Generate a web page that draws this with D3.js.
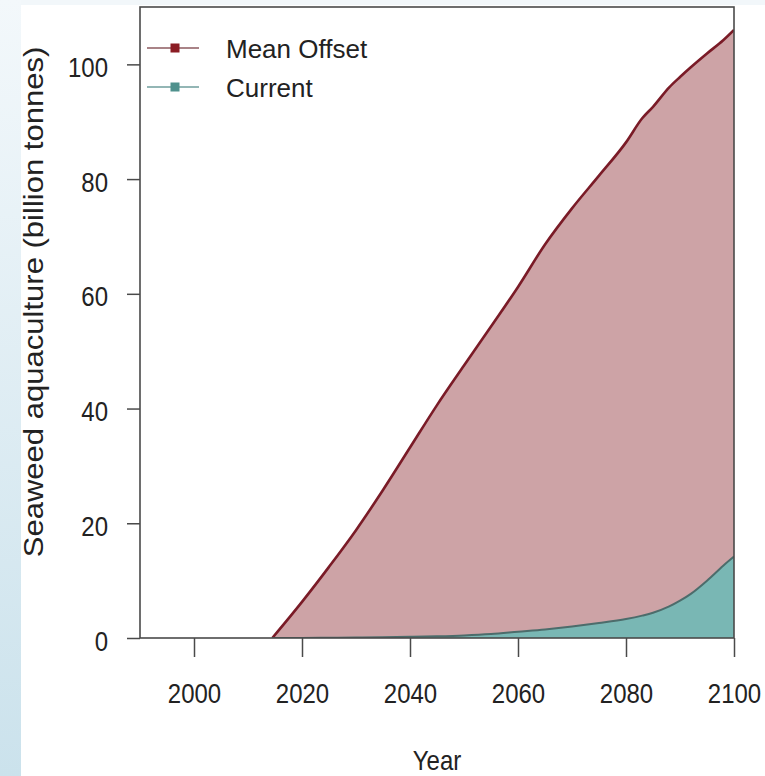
<!DOCTYPE html>
<html>
<head>
<meta charset="utf-8">
<script src="https://cdn.jsdelivr.net/npm/d3@7"></script>
<style>
  html, body { margin: 0; padding: 0; background: #ffffff; }
  svg { display: block; font-family: "Liberation Sans", Arial, sans-serif; }
</style>
</head>
<body>
<svg id="chart" width="765" height="776"></svg>
<script>
// Seaweed aquaculture needed per scenario (billion tonnes)
const years        = [2014.5, 2020, 2025, 2030, 2035, 2040, 2045, 2050, 2055, 2060, 2065, 2070, 2075, 2080, 2083, 2085, 2088, 2090, 2092, 2095, 2098, 2100];
const meanOffset   = [0, 6.3, 12.4, 18.8, 25.8, 33.2, 40.6, 47.5, 54.3, 61.2, 68.6, 74.9, 80.6, 86.4, 90.6, 92.6, 96.0, 97.8, 99.5, 101.9, 104.2, 106.0];
const currentTrend = [0, 0.02, 0.05, 0.08, 0.12, 0.2, 0.3, 0.45, 0.7, 1.1, 1.5, 2.0, 2.6, 3.3, 3.9, 4.4, 5.5, 6.5, 7.7, 10.0, 12.6, 14.2];

const seriesNames = ["Mean Offset", "Current"];
const xTicks = [2000, 2020, 2040, 2060, 2080, 2100];
const yTicks = [0, 20, 40, 60, 80, 100];

const svg = d3.select("#chart");
const L = 140, R = 734, T = 7, B = 638;
const textStretch = 1.15;

// soft page backdrop on the left / top edge
const defs = svg.append("defs");
const grad = defs.append("linearGradient").attr("id", "edge").attr("x1", 0).attr("y1", 0).attr("x2", 0).attr("y2", 1);
grad.append("stop").attr("offset", "0%").attr("stop-color", "#f3f8fb");
grad.append("stop").attr("offset", "100%").attr("stop-color", "#cbe2ec");
svg.append("rect").attr("x", 0).attr("y", 0).attr("width", 21).attr("height", 776).attr("fill", "url(#edge)");
svg.append("rect").attr("x", 21).attr("y", 0).attr("width", 744).attr("height", 5).attr("fill", "#f2f7fa");

defs.append("clipPath").attr("id", "plotClip")
  .append("rect").attr("x", L).attr("y", T).attr("width", R - L).attr("height", B - T);

const x = d3.scaleLinear().domain([1990, 2100]).range([L, R]);
const y = d3.scaleLinear().domain([0, 110]).range([B, T]);

const rowsOffset = years.map((yr, i) => ({ yr, v: meanOffset[i] }));
const rowsCurrent = years.map((yr, i) => ({ yr, v: currentTrend[i] }));

const area = d3.area().x(d => x(d.yr)).y0(y(0)).y1(d => y(d.v)).curve(d3.curveMonotoneX);
const line = d3.line().x(d => x(d.yr)).y(d => y(d.v)).curve(d3.curveMonotoneX);

const plot = svg.append("g").attr("clip-path", "url(#plotClip)");
plot.append("path").datum(rowsOffset).attr("d", area).attr("fill", "#cda3a6");
plot.append("path").datum(rowsOffset).attr("d", line).attr("fill", "none")
  .attr("stroke", "#7a1b27").attr("stroke-width", 2.6);
plot.append("path").datum(rowsCurrent).attr("d", area).attr("fill", "#79b7b4");
plot.append("path").datum(rowsCurrent).attr("d", line).attr("fill", "none")
  .attr("stroke", "#4c6c6b").attr("stroke-width", 2);

// axes
const axisColor = "#4a4a4a";
const gy = svg.append("g").attr("transform", `translate(${L},0)`)
  .call(d3.axisLeft(y).tickValues(yTicks).tickSize(13).tickFormat(d3.format("d")));
gy.select(".domain").remove();
gy.selectAll(".tick line").attr("stroke", axisColor).attr("stroke-width", 1.5);
gy.selectAll(".tick text")
  .attr("font-size", 24).attr("fill", "#222").attr("font-family", "Liberation Sans, Arial, sans-serif")
  .attr("text-anchor", "end").attr("x", -32).attr("dy", 0).attr("y", 12 / textStretch)
  .attr("transform", `scale(1,${textStretch})`);

const gx = svg.append("g").attr("transform", `translate(0,${B})`)
  .call(d3.axisBottom(x).tickValues(xTicks).tickSize(19).tickFormat(d3.format("d")));
gx.select(".domain").remove();
gx.selectAll(".tick line").attr("stroke", axisColor).attr("stroke-width", 1.5);
gx.selectAll(".tick text")
  .attr("font-size", 24).attr("fill", "#222").attr("font-family", "Liberation Sans, Arial, sans-serif")
  .attr("dy", 0).attr("y", 65 / textStretch)
  .attr("transform", `scale(1,${textStretch})`);

// plot frame
svg.append("rect").attr("x", L).attr("y", T).attr("width", R - L).attr("height", B - T)
  .attr("fill", "none").attr("stroke", axisColor).attr("stroke-width", 1.6);

// axis titles
svg.append("text")
  .attr("transform", `translate(437,770) scale(1,${textStretch})`)
  .attr("text-anchor", "middle").attr("font-size", 24).attr("fill", "#222")
  .text("Year");
svg.append("text")
  .attr("transform", `translate(43,302) rotate(-90) scale(${textStretch},1)`)
  .attr("text-anchor", "middle").attr("font-size", 27).attr("fill", "#222")
  .text("Seaweed aquaculture (billion tonnes)");

// legend
const legendItems = [
  { name: seriesNames[0], line: "#8c5a5f", mark: "#8b1c24", cy: 48 },
  { name: seriesNames[1], line: "#6f9e9c", mark: "#4f918d", cy: 87 }
];
const lg = svg.append("g");
legendItems.forEach(it => {
  lg.append("line").attr("x1", 147).attr("x2", 199).attr("y1", it.cy).attr("y2", it.cy)
    .attr("stroke", it.line).attr("stroke-width", 1.6);
  lg.append("rect").attr("x", 170.5).attr("y", it.cy - 4.5).attr("width", 9).attr("height", 9)
    .attr("fill", it.mark);
  lg.append("text").attr("x", 226).attr("y", it.cy + 9.5).attr("font-size", 26).attr("fill", "#222")
    .text(it.name);
});
</script>
</body>
</html>
